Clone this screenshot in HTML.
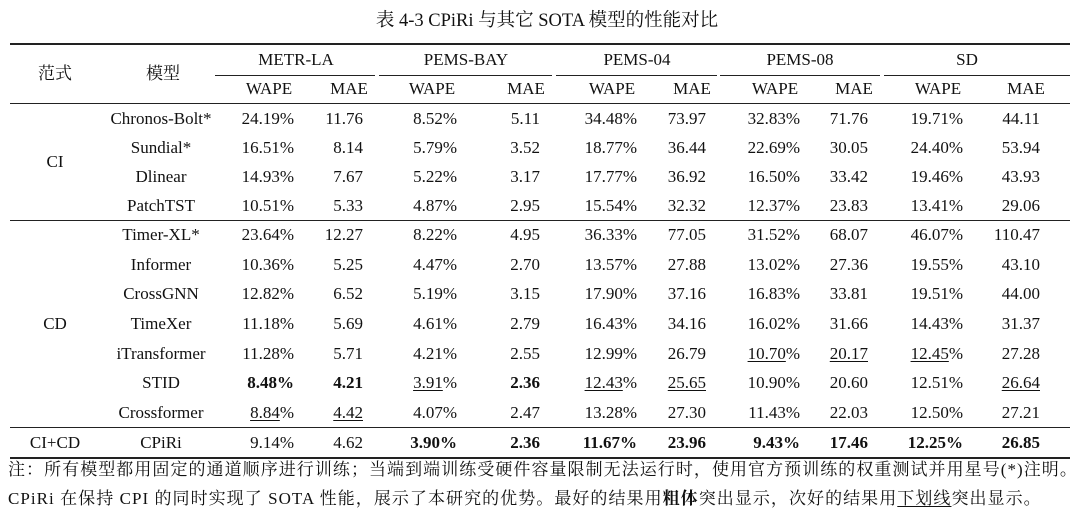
<!DOCTYPE html>
<html><head><meta charset="utf-8">
<style>
body{margin:0;background:#fff;}
#root{position:relative;width:1080px;height:526px;overflow:hidden;background:#fff;font-family:"Liberation Serif","Noto Serif CJK SC",serif;color:#111;font-size:17px;}
.t{position:absolute;white-space:nowrap;line-height:20px;}
.c{transform:translateX(-50%);}
.r{transform:translateX(-100%);}
.rule{position:absolute;background:#222;}
u{text-decoration:underline;text-underline-offset:2px;text-decoration-thickness:1px;}
</style></head><body>
<div id="root">
<div class="t c" style="left:547px;top:11px;font-size:18.5px">表 4-3 CPiRi 与其它 SOTA 模型的性能对比</div>
</div>
<script>
const datasets=["METR-LA","PEMS-BAY","PEMS-04","PEMS-08","SD"];
const models=["Chronos-Bolt*","Sundial*","Dlinear","PatchTST","Timer-XL*","Informer","CrossGNN","TimeXer","iTransformer","STID","Crossformer","CPiRi"];
// cell markup: "b:" bold, "u:" underline number
const values=[
["24.19%","11.76","8.52%","5.11","34.48%","73.97","32.83%","71.76","19.71%","44.11"],
["16.51%","8.14","5.79%","3.52","18.77%","36.44","22.69%","30.05","24.40%","53.94"],
["14.93%","7.67","5.22%","3.17","17.77%","36.92","16.50%","33.42","19.46%","43.93"],
["10.51%","5.33","4.87%","2.95","15.54%","32.32","12.37%","23.83","13.41%","29.06"],
["23.64%","12.27","8.22%","4.95","36.33%","77.05","31.52%","68.07","46.07%","110.47"],
["10.36%","5.25","4.47%","2.70","13.57%","27.88","13.02%","27.36","19.55%","43.10"],
["12.82%","6.52","5.19%","3.15","17.90%","37.16","16.83%","33.81","19.51%","44.00"],
["11.18%","5.69","4.61%","2.79","16.43%","34.16","16.02%","31.66","14.43%","31.37"],
["11.28%","5.71","4.21%","2.55","12.99%","26.79","u:10.70%","u:20.17","u:12.45%","27.28"],
["b:8.48%","b:4.21","u:3.91%","b:2.36","u:12.43%","u:25.65","10.90%","20.60","12.51%","u:26.64"],
["u:8.84%","u:4.42","4.07%","2.47","13.28%","27.30","11.43%","22.03","12.50%","27.21"],
["9.14%","4.62","b:3.90%","b:2.36","b:11.67%","b:23.96","b:9.43%","b:17.46","b:12.25%","b:26.85"]
];
const paradigms=["CI","CD","CI+CD"];
const root=document.getElementById('root');
function txt(html,x,y,cls,extra){const d=document.createElement('div');d.className='t '+cls;d.style.left=x+'px';d.style.top=(y-10)+'px';if(extra)d.style.cssText+=extra;d.innerHTML=html;root.appendChild(d);return d;}
function rule(x,y,w,h){const d=document.createElement('div');d.className='rule';d.style.left=x+'px';d.style.top=y+'px';d.style.width=w+'px';d.style.height=h+'px';


root.appendChild(d);}
rule(10,43,1060,2);rule(10,103,1060,1);rule(10,220,1060,1.3);rule(10,427,1060,1.3);rule(10,457,1060,2);
const grpCenters=[296,466,637,800,967];
const segs=[[215,375],[379,552],[556,717],[720,880],[884,1070]];
const wapeR=[294,457,637,800,963], maeR=[363,540,706,868,1040];
let e;
e=txt("范式",55,74,'c');
e=txt("模型",163,74,'c');
datasets.forEach((d,i)=>{
 e=txt(d,grpCenters[i],60,'c');
 
 
 rule(segs[i][0],75,segs[i][1]-segs[i][0],1);
 e=txt("WAPE",wapeR[i]-25,89,'c');
 
 
 e=txt("MAE",maeR[i]-14,89,'c');
 
 
});
const rowY=[119,148,177,206,235,265,294,324,354,383,413,443];
function fmt(v){
 if(v.startsWith('b:'))return '<b>'+v.slice(2)+'</b>';
 if(v.startsWith('u:')){v=v.slice(2);const p=v.endsWith('%');return '<u>'+(p?v.slice(0,-1):v)+'</u>'+(p?'%':'');}
 return v;
}
models.forEach((m,r)=>{
 e=txt(m,161,rowY[r],'c');
 
 
 values[r].forEach((v,k)=>{
  const i=Math.floor(k/2);
  e=txt(fmt(v),(k%2?maeR[i]:wapeR[i]),rowY[r],'r');
  
  
 });
});
e=txt(paradigms[0],55,162,'c');
e=txt(paradigms[1],55,324,'c');
e=txt(paradigms[2],55,443,'c');
e=txt("注：所有模型都用固定的通道顺序进行训练；当端到端训练受硬件容量限制无法运行时，使用官方预训练的权重测试并用星号(*)注明。",8,470,'','font-size:17px;letter-spacing:1.05px');

e=txt("CPiRi 在保持 CPI 的同时实现了 SOTA 性能，展示了本研究的优势。最好的结果用<b>粗体</b>突出显示，次好的结果用<u>下划线</u>突出显示。",8,499,'','font-size:17px;letter-spacing:1.05px');

</script>
</body></html>
